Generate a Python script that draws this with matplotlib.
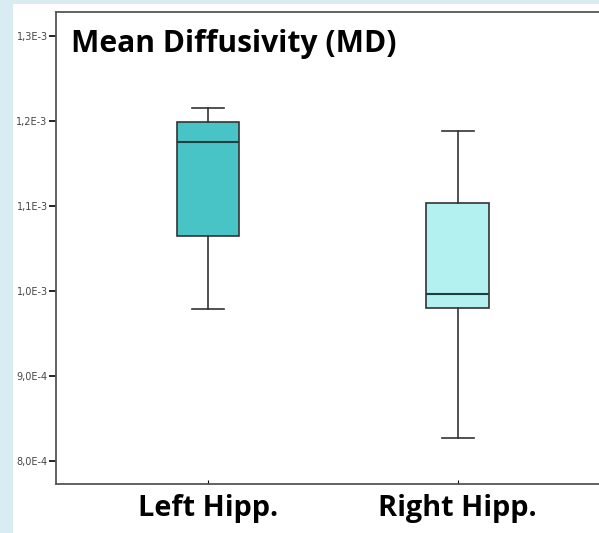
import matplotlib
matplotlib.use("Agg")
import matplotlib.pyplot as plt
from matplotlib.patches import Rectangle
from matplotlib.ticker import FuncFormatter

# =========================
# DATA
# =========================
groups = ["Left Hipp.", "Right Hipp."]
whisker_low = [0.979e-3, 0.8274e-3]
q1 = [1.065e-3, 0.9796e-3]
median = [1.1757e-3, 0.9968e-3]
q3 = [1.1992e-3, 1.104e-3]
whisker_high = [1.2157e-3, 1.1886e-3]
box_colors = ["#48C4C6", "#B3F0F0"]

yticks = [8e-4, 9e-4, 1.0e-3, 1.1e-3, 1.2e-3, 1.3e-3]

# =========================
# FIGURE
# =========================
fig = plt.figure(figsize=(5.99, 5.33), dpi=100)
fig.patch.set_facecolor("#d9ecf3")
# white slide panel behind the axes
fig.add_artist(Rectangle((13 / 599, 0), 1, (533 - 4) / 533,
                         transform=fig.transFigure, facecolor="white",
                         edgecolor="none", zorder=-10))

ax = fig.add_axes([56 / 599, 49 / 533, 1 - 56 / 599, (484 - 12) / 533])
ax.set_facecolor("white")

stats = []
for i in range(len(groups)):
    stats.append({
        "label": groups[i],
        "whislo": whisker_low[i],
        "q1": q1[i],
        "med": median[i],
        "q3": q3[i],
        "whishi": whisker_high[i],
        "fliers": [],
    })

bp = ax.bxp(stats, positions=[1, 2], widths=0.25, capwidths=0.128,
            patch_artist=True, showfliers=False,
            boxprops=dict(edgecolor="#333333", linewidth=1.2),
            medianprops=dict(color="#1f3f3f", linewidth=1.5),
            whiskerprops=dict(color="#333333", linewidth=1.2),
            capprops=dict(color="#333333", linewidth=1.2))
for patch, c in zip(bp["boxes"], box_colors):
    patch.set_facecolor(c)

ax.set_xlim(0.391, 2.566)
ax.set_ylim(7.73e-4, 1.328e-3)

ax.set_yticks(yticks)
ax.yaxis.set_major_formatter(FuncFormatter(
    lambda v, p: f"{v:.1E}".replace(".", ",").replace("E-0", "E-")))
ax.tick_params(axis="y", direction="out", length=5, width=1.2,
               labelsize=7, labelcolor="#444444", pad=1)
ax.tick_params(axis="x", direction="in", length=3, width=0.8, pad=7.5)
for lbl in ax.get_xticklabels():
    lbl.set_fontfamily("Open Sans")
    lbl.set_fontweight("bold")
    lbl.set_fontsize(20.8)

for s in ["left", "top", "bottom"]:
    ax.spines[s].set_color("#555555")
    ax.spines[s].set_linewidth(1.3)
ax.spines["right"].set_visible(False)

ax.text(71 / 599, 1 - 52 / 533, "Mean Diffusivity (MD)",
        transform=fig.transFigure, fontfamily="Open Sans", fontweight="bold",
        fontsize=21.6, va="baseline", ha="left")

fig.savefig("out.png", dpi=100, facecolor=fig.get_facecolor())
